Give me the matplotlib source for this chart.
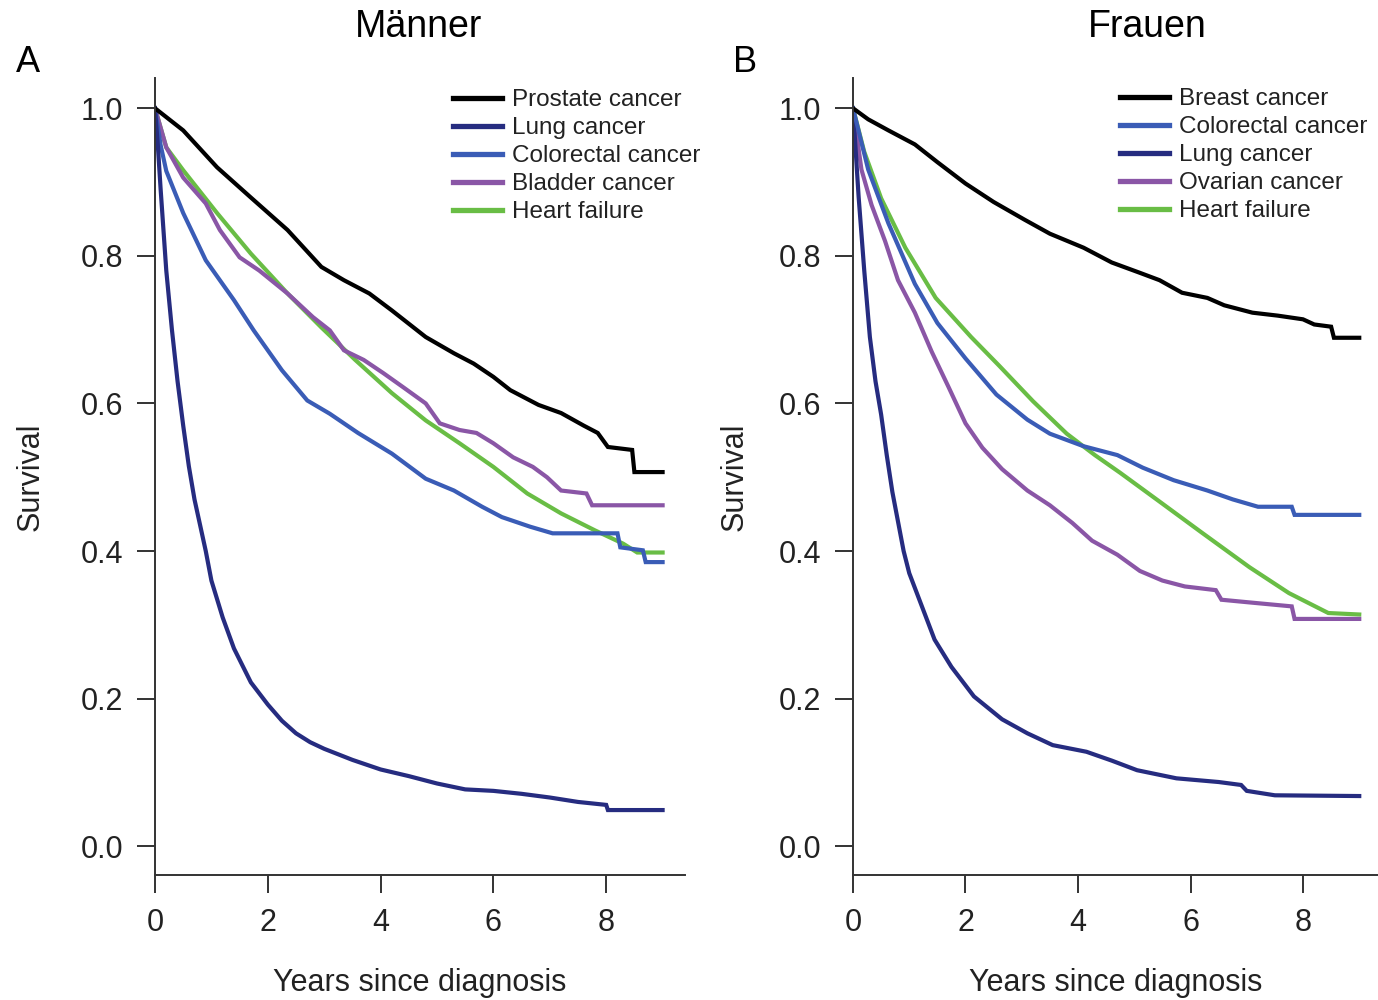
import numpy as np
import matplotlib
matplotlib.use('Agg')
import matplotlib.pyplot as plt
from matplotlib.ticker import FormatStrFormatter

plt.rcParams['font.family'] = ['Liberation Sans', 'DejaVu Sans']

# colours
BLACK = '#000000'
NAVY = '#262c80'
BLUE = '#3a5cb6'
PURPLE = '#8a56a6'
GREEN = '#69bd45'

# ---- Panel A: Männer ----
men_prostate_t = [0, 0.5, 1.1, 1.7, 2.35, 2.95, 3.35, 3.8, 4.2, 4.8, 5.3, 5.65, 6.0, 6.3,
                  6.8, 7.2, 7.6, 7.85, 8.03, 8.46, 8.5, 9.0]
men_prostate_s = [1.0, 0.970, 0.920, 0.879, 0.835, 0.785, 0.767, 0.749, 0.726, 0.690, 0.668,
                  0.654, 0.636, 0.618, 0.598, 0.587, 0.570, 0.560, 0.541, 0.537, 0.507, 0.507]

men_lung_t = [0, 0.05, 0.1, 0.2, 0.3, 0.4, 0.5, 0.6, 0.7, 0.8, 0.9, 1.0, 1.2, 1.4, 1.7, 2.0,
              2.25, 2.5, 2.75, 3.0, 3.5, 4.0, 4.5, 5.0, 5.5, 6.0, 6.5, 7.0, 7.5, 8.0, 8.03, 9.0]
men_lung_s = [1.0, 0.95, 0.89, 0.78, 0.70, 0.63, 0.57, 0.515, 0.47, 0.435, 0.40, 0.36, 0.31,
              0.268, 0.222, 0.192, 0.170, 0.153, 0.141, 0.132, 0.117, 0.104, 0.095, 0.085,
              0.077, 0.075, 0.071, 0.066, 0.060, 0.056, 0.049, 0.049]

men_colorectal_t = [0, 0.1, 0.2, 0.5, 0.9, 1.4, 1.75, 2.25, 2.7, 3.1, 3.6, 4.2, 4.8, 5.3, 5.8,
                    6.15, 6.65, 7.05, 8.2, 8.25, 8.65, 8.7, 9.0]
men_colorectal_s = [1.0, 0.95, 0.915, 0.858, 0.794, 0.740, 0.699, 0.645, 0.604, 0.586, 0.560,
                    0.532, 0.498, 0.482, 0.460, 0.446, 0.433, 0.424, 0.424, 0.405, 0.401,
                    0.385, 0.385]

men_bladder_t = [0, 0.2, 0.5, 0.9, 1.15, 1.5, 1.85, 2.35, 2.8, 3.1, 3.35, 3.7, 4.05, 4.4, 4.8,
                 5.05, 5.4, 5.7, 6.0, 6.35, 6.7, 6.95, 7.2, 7.65, 7.75, 9.0]
men_bladder_s = [1.0, 0.947, 0.906, 0.871, 0.835, 0.798, 0.780, 0.749, 0.717, 0.699, 0.672,
                 0.659, 0.641, 0.622, 0.600, 0.573, 0.564, 0.560, 0.546, 0.527, 0.514, 0.500,
                 0.482, 0.478, 0.462, 0.462]

men_heart_t = [0, 0.2, 0.5, 1.1, 1.7, 2.35, 2.95, 3.55, 4.2, 4.8, 5.4, 6.0, 6.6, 7.2, 7.8,
               8.3, 8.55, 9.0]
men_heart_s = [1.0, 0.947, 0.916, 0.858, 0.803, 0.749, 0.703, 0.659, 0.614, 0.577, 0.546,
               0.514, 0.478, 0.451, 0.428, 0.410, 0.398, 0.398]

# ---- Panel B: Frauen ----
women_breast_t = [0, 0.27, 0.63, 1.1, 1.5, 2.0, 2.5, 3.05, 3.5, 4.1, 4.6, 5.1, 5.45, 5.85,
                  6.3, 6.6, 7.1, 7.55, 8.0, 8.2, 8.5, 8.55, 9.0]
women_breast_s = [1.0, 0.985, 0.970, 0.951, 0.927, 0.898, 0.873, 0.849, 0.830, 0.811, 0.791,
                  0.777, 0.767, 0.750, 0.743, 0.733, 0.723, 0.719, 0.714, 0.707, 0.704,
                  0.689, 0.689]

women_colorectal_t = [0, 0.27, 0.63, 1.1, 1.5, 2.0, 2.55, 3.1, 3.5, 4.1, 4.7, 5.15, 5.7,
                      6.3, 6.75, 7.2, 7.8, 7.85, 9.0]
women_colorectal_s = [1.0, 0.917, 0.844, 0.762, 0.709, 0.661, 0.612, 0.578, 0.559, 0.542,
                      0.530, 0.513, 0.496, 0.482, 0.470, 0.460, 0.460, 0.449, 0.449]

women_lung_t = [0, 0.05, 0.1, 0.2, 0.3, 0.4, 0.5, 0.6, 0.7, 0.8, 0.9, 1.0, 1.15, 1.45, 1.75,
                2.15, 2.65, 3.1, 3.55, 4.15, 4.6, 5.05, 5.75, 6.5, 6.9, 7.0, 7.5, 9.0]
women_lung_s = [1.0, 0.94, 0.88, 0.78, 0.69, 0.63, 0.585, 0.53, 0.48, 0.44, 0.40, 0.37, 0.34,
                0.28, 0.243, 0.203, 0.172, 0.153, 0.137, 0.128, 0.116, 0.103, 0.092, 0.087,
                0.083, 0.075, 0.069, 0.068]

women_ovarian_t = [0, 0.15, 0.33, 0.57, 0.8, 1.1, 1.4, 1.7, 2.0, 2.3, 2.65, 3.1, 3.5, 3.9,
                   4.25, 4.7, 5.1, 5.5, 5.9, 6.45, 6.55, 7.1, 7.8, 7.85, 9.0]
women_ovarian_s = [1.0, 0.917, 0.869, 0.820, 0.767, 0.723, 0.670, 0.622, 0.573, 0.540, 0.511,
                   0.482, 0.462, 0.438, 0.414, 0.395, 0.373, 0.360, 0.352, 0.347, 0.334,
                   0.330, 0.325, 0.308, 0.308]

women_heart_t = [0, 0.2, 0.5, 0.93, 1.47, 2.1, 2.6, 3.2, 3.8, 4.3, 4.75, 5.45, 6.2, 7.05,
                 7.75, 8.45, 9.0]
women_heart_s = [1.0, 0.941, 0.878, 0.811, 0.743, 0.690, 0.651, 0.603, 0.559, 0.530, 0.506,
                 0.467, 0.425, 0.378, 0.343, 0.316, 0.314]

men_series = [
    ('Prostate cancer', men_prostate_t, men_prostate_s, BLACK),
    ('Lung cancer', men_lung_t, men_lung_s, NAVY),
    ('Colorectal cancer', men_colorectal_t, men_colorectal_s, BLUE),
    ('Bladder cancer', men_bladder_t, men_bladder_s, PURPLE),
    ('Heart failure', men_heart_t, men_heart_s, GREEN),
]
women_series = [
    ('Breast cancer', women_breast_t, women_breast_s, BLACK),
    ('Colorectal cancer', women_colorectal_t, women_colorectal_s, BLUE),
    ('Lung cancer', women_lung_t, women_lung_s, NAVY),
    ('Ovarian cancer', women_ovarian_t, women_ovarian_s, PURPLE),
    ('Heart failure', women_heart_t, women_heart_s, GREEN),
]

W, H = 1378, 1000
fig = plt.figure(figsize=(W / 100, H / 100), dpi=100)

AX_COL = '#333333'
TXT_COL = '#222222'


def draw_panel(rect, series, xmax, legend_xy, ylab_x):
    ax = fig.add_axes(rect)
    # draw in reverse so the first legend entry sits on top
    for name, t, s, col in series[::-1]:
        ax.plot(t, s, color=col, lw=3.0, label=name, solid_joinstyle='miter')
    ax.set_xlim(0, xmax)
    ax.set_ylim(-0.039, 1.041)
    ax.set_xticks([0, 2, 4, 6, 8])
    ax.set_yticks(np.arange(0, 1.01, 0.2))
    ax.yaxis.set_major_formatter(FormatStrFormatter('%.1f'))
    for side in ['top', 'right']:
        ax.spines[side].set_visible(False)
    for side in ['left', 'bottom']:
        ax.spines[side].set_linewidth(1.4)
        ax.spines[side].set_color(AX_COL)
    ax.tick_params(axis='both', length=13, width=1.4, color=AX_COL,
                   labelsize=22, labelcolor=TXT_COL)
    ax.tick_params(axis='y', pad=10)
    ax.tick_params(axis='x', pad=11)

    ax.set_xlabel('Years since diagnosis', fontsize=22, color=TXT_COL)
    ax.xaxis.label.set_va('center')
    ax.xaxis.set_label_coords(0.5, (875 - 983) / (rect[3] * H))
    ax.set_ylabel('Survival', fontsize=22, color=TXT_COL)
    ax.yaxis.label.set_va('center')
    ax.yaxis.set_label_coords((ylab_x - rect[0] * W) / (rect[2] * W), 0.5)

    handles, labels = ax.get_legend_handles_labels()
    leg = ax.legend(handles[::-1], labels[::-1], loc='upper left',
                    bbox_to_anchor=(legend_xy[0] / W, 1 - legend_xy[1] / H),
                    bbox_transform=fig.transFigure, frameon=False,
                    fontsize=17.5, handlelength=2.0, handletextpad=0.42,
                    labelspacing=0.25, borderpad=0, borderaxespad=0)
    for txt in leg.get_texts():
        txt.set_color(TXT_COL)
    for ln in leg.get_lines():
        ln.set_linewidth(3.8)
    return ax


axA = draw_panel([155 / W, 125 / H, 530 / W, 797 / H], men_series, 530 / 56.4,
                 (453, 89), 31)
axB = draw_panel([853 / W, 125 / H, 525 / W, 797 / H], women_series, 525 / 56.25,
                 (1120, 88), 735)

fig.text(418 / W, 1 - 27 / H, 'Männer', ha='center', va='center', fontsize=27, color='black')
fig.text(1147 / W, 1 - 27 / H, 'Frauen', ha='center', va='center', fontsize=27, color='black')
fig.text(28 / W, 1 - 63 / H, 'A', ha='center', va='center', fontsize=26, color='black')
fig.text(745 / W, 1 - 63 / H, 'B', ha='center', va='center', fontsize=26, color='black')

fig.savefig('out.png', dpi=100)
